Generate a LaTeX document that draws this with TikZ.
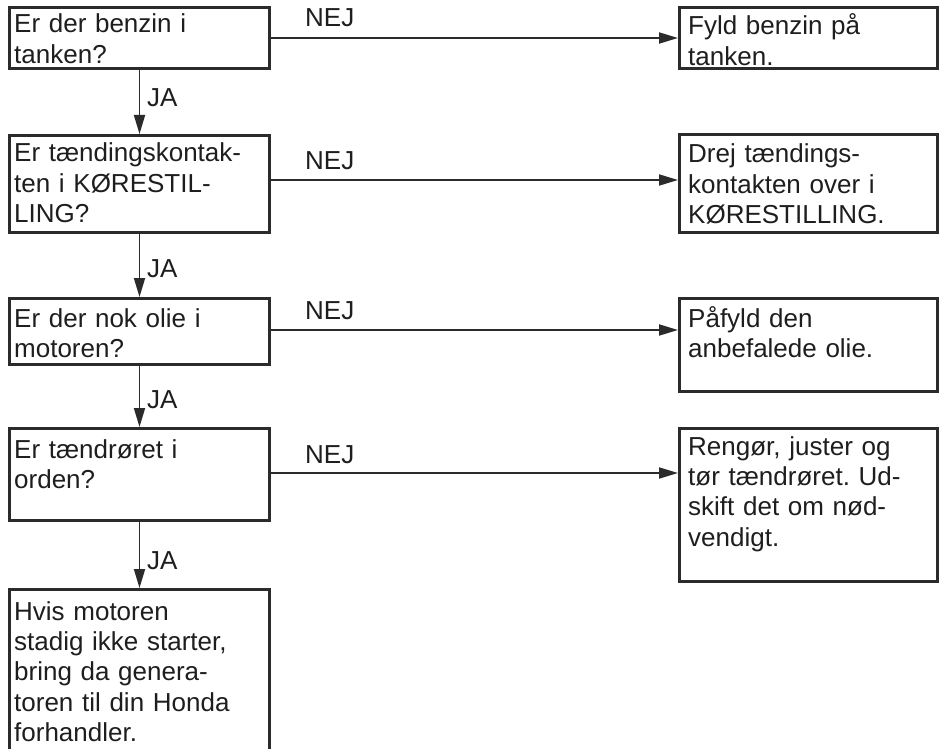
\documentclass[tikz,border=0pt]{standalone}
\usepackage{fontspec}
\setmainfont{Liberation Sans}
\usetikzlibrary{arrows.meta}
\definecolor{ink}{HTML}{2B2B2B}
\definecolor{txtc}{HTML}{1E1E1E}
\frenchspacing
\tikzset{
  box/.style={draw=ink, line width=3pt, rectangle, inner sep=0pt, anchor=north west},
  txt/.style={text=txtc, inner sep=0pt, anchor=base west, align=left, text width=250pt,
              font=\fontsize{26}{30.4}\selectfont\frenchspacing},
  lbl/.style={text=txtc, inner sep=0pt, anchor=base west, font=\fontsize{26}{30.4}\selectfont},
  conn/.style={draw=ink, line width=1.8pt, -{Triangle[length=19pt,width=11pt]}},
}
\begin{document}
\begin{tikzpicture}[x=1pt,y=-1pt]
\useasboundingbox (0,0) rectangle (940,749);
\clip (0,0) rectangle (940,749);
\fill[white] (0,0) rectangle (940,749);
% left boxes
\node[box, minimum width=260pt, minimum height=61pt]  (q1) at (8,6) {};
\node[box, minimum width=260pt, minimum height=97pt]  (q2) at (8,134) {};
\node[box, minimum width=260pt, minimum height=66pt]  (q3) at (8,297) {};
\node[box, minimum width=260pt, minimum height=92pt]  (q4) at (8,427) {};
\node[box, minimum width=260pt, minimum height=209pt] (q5) at (8,588) {};
% right boxes
\node[box, minimum width=258pt, minimum height=61pt]  (a1) at (678,6) {};
\node[box, minimum width=258pt, minimum height=98pt]  (a2) at (678,133) {};
\node[box, minimum width=258pt, minimum height=93pt]  (a3) at (678,297) {};
\node[box, minimum width=258pt, minimum height=153pt] (a4) at (678,427) {};
% texts
\node[txt] (tq1) at (14,33) {Er der benzin i\\tanken?};
\node[txt] (tq2) at (14,162) {Er tændingskontak-\\ten i KØRESTIL-\\LING?};
\node[txt] (tq3) at (14,327) {Er der nok olie i\\motoren?};
\node[txt] (tq4) at (14,458) {Er tændrøret i\\orden?};
\node[txt] (tq5) at (14,620) {Hvis motoren\\stadig ikke starter,\\bring da genera-\\toren til din Honda\\forhandler.};
\node[txt] (ta1) at (688,35) {Fyld benzin på\\tanken.};
\node[txt] (ta2) at (688,163) {Drej tændings-\\kontakten over i\\KØRESTILLING.};
\node[txt] (ta3) at (688,327) {Påfyld den\\anbefalede olie.};
\node[txt] (ta4) at (688,455) {Rengør, juster og\\tør tændrøret. Ud-\\skift det om nød-\\vendigt.};
% horizontal connectors
\draw[conn] (q1.east) -- (q1.east -| a1.west);
\draw[conn] ([yshift=4pt]q2.east) -- ([yshift=4pt]q2.east -| a2.west);
\draw[conn] ([yshift=1.5pt]q3.east) -- ([yshift=1.5pt]q3.east -| a3.west);
\draw[conn] ([yshift=1.5pt]q4.east) -- ([yshift=1.5pt]q4.east -| a4.west);
% vertical connectors
\draw[conn] (q1.south) -- (q2.north);
\draw[conn] (q2.south) -- (q3.north);
\draw[conn] (q3.south) -- (q4.north);
\draw[conn] (q4.south) -- (q5.north);
% labels
\node[lbl] (n1) at (305,27) {NEJ};
\node[lbl] (n2) at (305,170) {NEJ};
\node[lbl] (n3) at (305,319) {NEJ};
\node[lbl] (n4) at (305,463) {NEJ};
\node[lbl] (j1) at (147,107) {JA};
\node[lbl] (j2) at (147,277) {JA};
\node[lbl] (j3) at (147,408) {JA};
\node[lbl] (j4) at (147,569) {JA};
\end{tikzpicture}
\end{document}
